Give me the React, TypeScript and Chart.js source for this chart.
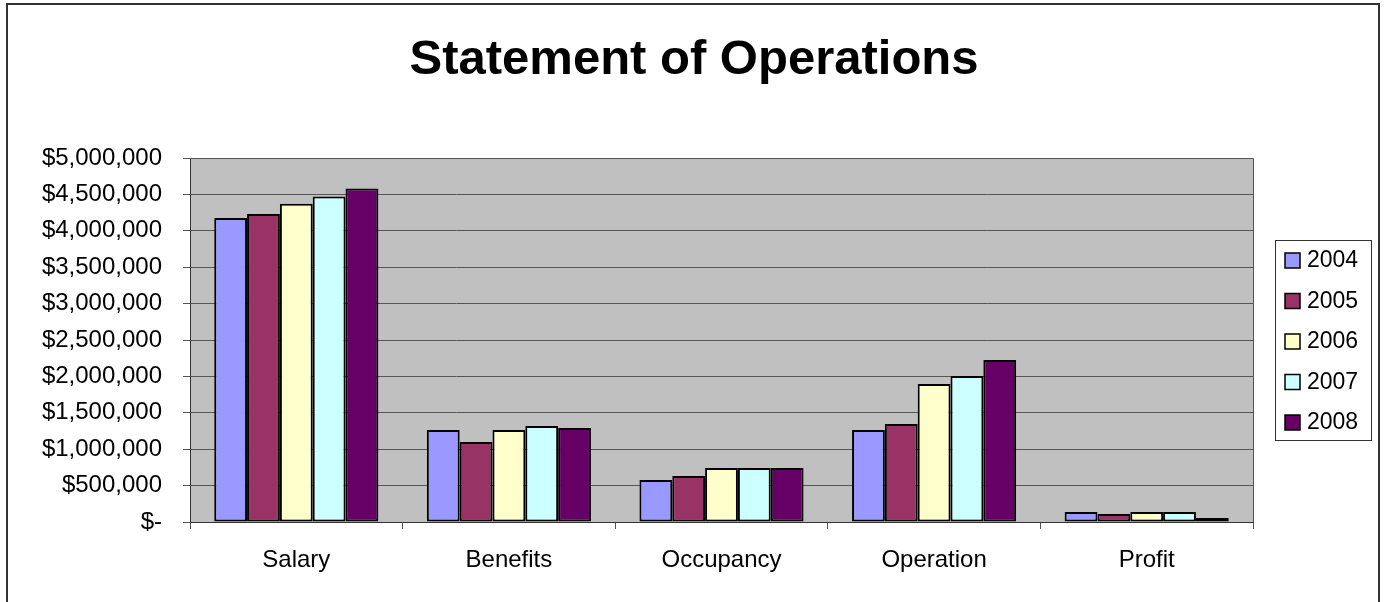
import React, { useEffect, useRef } from "react";
import { Chart, registerables } from "chart.js";

Chart.register(...registerables);

const categories = ["Salary", "Benefits", "Occupancy", "Operation", "Profit"];
const years = ["2004", "2005", "2006", "2007", "2008"];
const values2004 = [4176000, 1264000, 577000, 1264000, 137000];
const values2005 = [4230000, 1100000, 632000, 1346000, 110000];
const values2006 = [4370000, 1264000, 742000, 1896000, 137000];
const values2007 = [4470000, 1320000, 742000, 2005000, 137000];
const values2008 = [4580000, 1290000, 742000, 2225000, 55000];
const seriesColors = ["#9999FF", "#993366", "#FFFFCC", "#CCFFFF", "#660066"];
const titleText = "Statement of Operations";

const FONT = "'Liberation Sans', Arial, sans-serif";

export default function App() {
  const ref = useRef<HTMLCanvasElement | null>(null);

  useEffect(() => {
    if (!ref.current) return;
    const allValues = [values2004, values2005, values2006, values2007, values2008];

    const decor = {
      id: "decor",
      beforeDraw(chart: any) {
        const { ctx, chartArea } = chart;
        ctx.save();
        ctx.fillStyle = "#ffffff";
        ctx.fillRect(0, 0, chart.width, chart.height);
        ctx.fillStyle = "#C0C0C0";
        ctx.fillRect(chartArea.left, chartArea.top, chartArea.right - chartArea.left, chartArea.bottom - chartArea.top);
        ctx.restore();
      },
      afterDraw(chart: any) {
        const { ctx, chartArea } = chart;
        ctx.save();
        // outer border
        ctx.strokeStyle = "#333333";
        ctx.lineWidth = 2;
        ctx.strokeRect(7, 4, 1372, 620);
        // plot border right + top
        ctx.strokeStyle = "#555555";
        ctx.lineWidth = 1;
        ctx.beginPath();
        ctx.moveTo(chartArea.left, chartArea.top + 0.5);
        ctx.lineTo(chartArea.right + 0.5, chartArea.top + 0.5);
        ctx.lineTo(chartArea.right + 0.5, chartArea.bottom);
        ctx.stroke();
        // title
        ctx.fillStyle = "#000";
        ctx.font = `bold 49px ${FONT}`;
        ctx.textAlign = "center";
        ctx.textBaseline = "alphabetic";
        ctx.fillText(titleText, 694, 74);
        // legend
        const lx = 1275.5, ly = 240.5, lw = 96, lh = 200;
        ctx.strokeStyle = "#333333";
        ctx.lineWidth = 1;
        ctx.strokeRect(lx, ly, lw, lh);
        ctx.font = `23px ${FONT}`;
        ctx.textAlign = "left";
        ctx.textBaseline = "middle";
        chart.data.datasets.forEach((ds: any, i: number) => {
          const cy = 260 + i * 40.5;
          ctx.fillStyle = ds.backgroundColor;
          ctx.fillRect(1285, cy - 7, 15, 15);
          ctx.strokeStyle = "#000";
          ctx.lineWidth = 1.5;
          ctx.strokeRect(1285, cy - 7, 15, 15);
          ctx.fillStyle = "#000";
          ctx.fillText(ds.label, 1307, cy + 1);
        });
        ctx.restore();
      },
    };

    const chart = new Chart(ref.current, {
      type: "bar",
      data: {
        labels: categories,
        datasets: years.map((y, i) => ({
          label: y,
          data: allValues[i],
          backgroundColor: seriesColors[i],
          borderColor: "#000000",
          borderWidth: 2,
          borderSkipped: false,
          categoryPercentage: 0.772,
          barPercentage: 1,
        })),
      },
      options: {
        responsive: false,
        animation: false,
        events: [],
        layout: { padding: { top: 158, right: 131, bottom: 0, left: 0 } },
        plugins: {
          legend: { display: false },
          title: { display: false },
          tooltip: { enabled: false },
        },
        scales: {
          x: {
            afterFit: (s: any) => { s.height = 80; },
            grid: { drawOnChartArea: false, drawTicks: true, tickLength: 7, color: "#555555", offset: true },
            border: { display: true, color: "#333333", width: 1 },
            ticks: { color: "#000", font: { family: FONT, size: 24 }, padding: 17, maxRotation: 0 },
          },
          y: {
            min: 0,
            max: 5000000,
            afterFit: (s: any) => { s.width = 190; },
            grid: { color: "#555555", tickLength: 7, drawTicks: true },
            border: { display: true, color: "#333333", width: 1 },
            ticks: {
              stepSize: 500000,
              color: "#000",
              font: { family: FONT, size: 24 },
              padding: 21,
              callback: (v: any) => (Number(v) === 0 ? "$-" : "$" + Number(v).toLocaleString("en-US")),
            },
          },
        },
      },
      plugins: [decor],
    });
    return () => chart.destroy();
  }, []);

  return (
    <div style={{ position: "fixed", left: 0, top: 0, width: 1384, height: 602 }}>
      <canvas ref={ref} width={1384} height={602} style={{ display: "block" }} />
    </div>
  );
}
